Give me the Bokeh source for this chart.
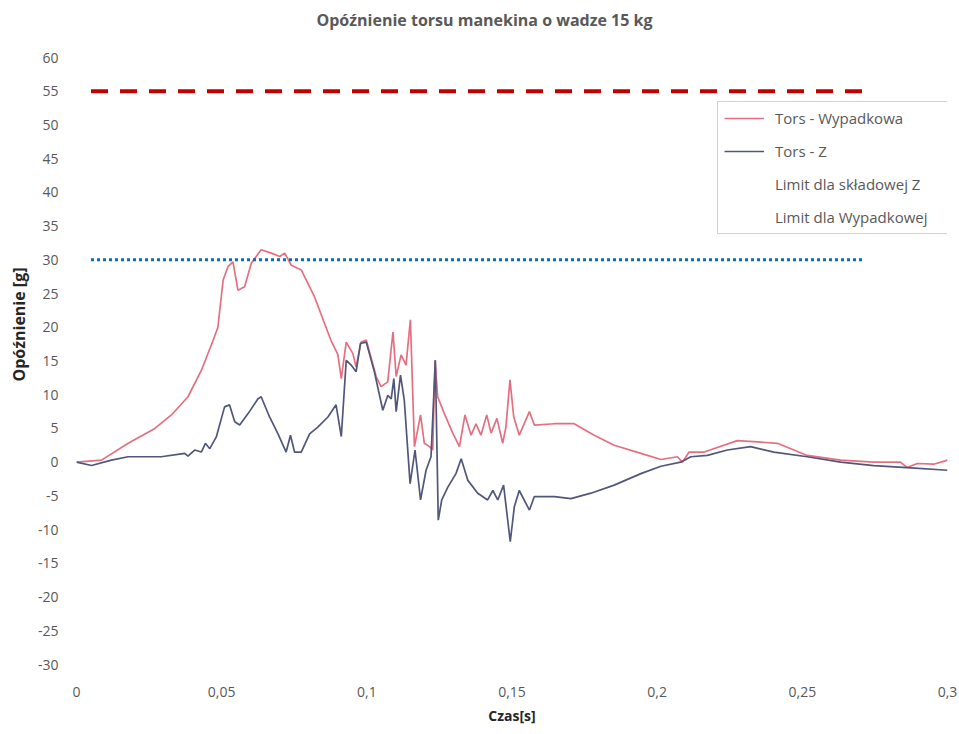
from bokeh.plotting import figure
from bokeh.models import Title, Legend, LegendItem, FixedTicker, Range1d
from bokeh.embed import file_html
from bokeh.resources import INLINE

# --- data ---
czas_w = [0, 0.0086, 0.0178, 0.027, 0.0327, 0.0384, 0.043, 0.047, 0.0487, 0.0505,
          0.0522, 0.0539, 0.0556, 0.0579, 0.0602, 0.0636, 0.0671, 0.07, 0.0717, 0.074,
          0.0774, 0.082, 0.0854, 0.0877, 0.09, 0.0912, 0.0929, 0.0952, 0.0963, 0.098,
          0.0998, 0.1015, 0.1032, 0.1049, 0.1072, 0.109, 0.1101, 0.1118, 0.1135, 0.115,
          0.1164, 0.1185, 0.1198, 0.1216, 0.1227, 0.1235, 0.1244, 0.1267, 0.1296, 0.1319,
          0.1338, 0.1359, 0.1376, 0.1393, 0.1413, 0.1428, 0.1448, 0.1468, 0.1479, 0.1493,
          0.1506, 0.1525, 0.156, 0.1577, 0.1646, 0.1714, 0.1783, 0.1852, 0.1944, 0.2013,
          0.207, 0.2087, 0.211, 0.2162, 0.2276, 0.2345, 0.2414, 0.2517, 0.2632, 0.2746,
          0.2838, 0.2861, 0.2896, 0.2953, 0.3]
tors_wypadkowa = [0, 0.3, 2.8, 5, 7, 9.7, 13.6, 18, 20, 27,
                  29, 29.7, 25.5, 26, 29.5, 31.5, 31, 30.5, 31, 29.2,
                  28.5, 24.5, 20.6, 18, 16, 12.4, 17.8, 16.1, 14.1, 17.8,
                  18.1, 15.4, 12.7, 11.2, 11.9, 19.3, 12.7, 15.9, 14.4, 21.1,
                  2.3, 7, 2.8, 2.3, 1.8, 15.1, 9.7, 7.2, 4.3, 2.3,
                  7, 4, 5.7, 4, 7, 4.3, 6.5, 2.8, 5.2, 12.2,
                  6.7, 4, 7.5, 5.5, 5.7, 5.7, 4, 2.5, 1.3, 0.4,
                  0.8, 0, 1.5, 1.5, 3.2, 3, 2.8, 1, 0.3, 0,
                  0, -0.8, -0.2, -0.3, 0.3]

czas_z = [0, 0.0052, 0.012, 0.0178, 0.0292, 0.0373, 0.0384, 0.0407, 0.043, 0.0444,
          0.0459, 0.0482, 0.051, 0.0527, 0.0545, 0.0562, 0.0591, 0.0625, 0.0636, 0.0665,
          0.0694, 0.0722, 0.0737, 0.0751, 0.0774, 0.0803, 0.0831, 0.0866, 0.0894, 0.0912,
          0.0929, 0.0946, 0.0963, 0.0978, 0.0998, 0.1026, 0.1055, 0.1072, 0.1084, 0.1093,
          0.1101, 0.1116, 0.1129, 0.1149, 0.1166, 0.1185, 0.1204, 0.1221, 0.1236, 0.1246,
          0.1258, 0.1279, 0.1307, 0.1325, 0.1348, 0.1382, 0.1416, 0.1434, 0.1451, 0.1471,
          0.1494, 0.1508, 0.1525, 0.156, 0.1577, 0.1646, 0.1703, 0.1772, 0.1852, 0.1944,
          0.2013, 0.2081, 0.2116, 0.2173, 0.2242, 0.2322, 0.2402, 0.2517, 0.2632, 0.2746,
          0.2861, 0.3]
tors_z = [0, -0.5, 0.3, 0.8, 0.8, 1.3, 0.9, 1.8, 1.5, 2.8,
          2, 3.8, 8.2, 8.5, 6, 5.5, 7.2, 9.4, 9.7, 6.7,
          4.2, 1.5, 4, 1.5, 1.5, 4.2, 5.2, 6.7, 8.5, 3.8,
          15.1, 14.4, 13.4, 17.6, 17.8, 13.4, 7.7, 9.9, 9.4, 12.4,
          7.5, 12.9, 9.2, -3.2, 1.8, -5.6, -1.2, 0.8, 15.1, -8.6,
          -5.6, -3.7, -1.7, 0.5, -2.7, -4.6, -5.6, -4.2, -5.6, -3.4,
          -11.8, -6.6, -4.2, -7.1, -5.1, -5.1, -5.4, -4.6, -3.4, -1.7,
          -0.6, 0, 0.8, 1, 1.8, 2.3, 1.5, 0.8, 0, -0.5,
          -0.8, -1.2]

limit_czas = [0.005, 0.271]
limit_z = [30, 30]
limit_wypadkowa = [55, 55]

x_ticks = [0, 0.05, 0.1, 0.15, 0.2, 0.25, 0.3]
x_tick_labels = ["0", "0,05", "0,1", "0,15", "0,2", "0,25", "0,3"]
y_ticks = [-30, -25, -20, -15, -10, -5, 0, 5, 10, 15, 20, 25, 30, 35, 40, 45, 50, 55, 60]
y_tick_labels = ["-30", "-25", "-20", "-15", "-10", "-5", "0", "5", "10", "15", "20",
                 "25", "30", "35", "40", "45", "50", "55", "60"]

FONT = "Open Sans"
GRAY = "#595959"

p = figure(width=957, height=732, x_range=Range1d(0, 0.3), y_range=Range1d(-30, 60),
           output_backend="svg", toolbar_location=None,
           min_border_left=75, min_border_right=10, min_border_top=57, min_border_bottom=68)
p.outline_line_color = None
p.xgrid.visible = False
p.ygrid.visible = False

# spacer, then the chart title (later "above" items sit further from the frame)
p.add_layout(Title(text=" ", text_font=FONT, text_font_size="15px", standoff=0), "above")
p.add_layout(Title(text="Opóźnienie torsu manekina o wadze 15 kg", align="left", offset=240,
                   text_font=FONT, text_font_size="16px", text_font_style="bold",
                   text_color=GRAY), "above")

for ax in (p.xaxis[0], p.yaxis[0]):
    ax.axis_line_color = None
    ax.major_tick_line_color = None
    ax.minor_tick_line_color = None
    ax.major_label_text_font = FONT
    ax.major_label_text_font_size = "14px"
    ax.major_label_text_color = GRAY

p.xaxis.ticker = FixedTicker(ticks=x_ticks)
p.xaxis.major_label_overrides = dict(zip(x_ticks, x_tick_labels))
p.xaxis.major_label_standoff = 16
p.xaxis.axis_label = "Czas[s]"
p.xaxis.axis_label_text_font = FONT
p.xaxis.axis_label_text_font_size = "14px"
p.xaxis.axis_label_text_font_style = "bold"
p.xaxis.axis_label_text_color = "#262626"
p.xaxis.axis_label_standoff = 6

p.yaxis.ticker = FixedTicker(ticks=y_ticks)
p.yaxis.major_label_overrides = dict(zip(y_ticks, y_tick_labels))
p.yaxis.major_label_standoff = 12
p.add_layout(Title(text="Opóźnienie [g]", align="right", offset=210,
                   text_font=FONT, text_font_size="16px", text_font_style="bold",
                   text_color="#262626"), "left")

rw = p.line(czas_w, tors_wypadkowa, line_color="#e56f81", line_width=1.7)
rz = p.line(czas_z, tors_z, line_color="#51577a", line_width=1.7)
p.line(limit_czas, limit_z, line_color="#0070c0", line_width=3, line_dash="3 3")
p.line(limit_czas, limit_wypadkowa, line_color="#c00000", line_width=4, line_dash="17 12")

d1 = p.line([], [], line_color="#f2f2f2", line_width=1)
d2 = p.line([], [], line_color="#f2f2f2", line_width=1)

legend = Legend(items=[LegendItem(label="Tors - Wypadkowa", renderers=[rw]),
                       LegendItem(label="Tors - Z", renderers=[rz]),
                       LegendItem(label="Limit dla składowej Z", renderers=[d1]),
                       LegendItem(label="Limit dla Wypadkowej", renderers=[d2])],
                location=(641, 430), padding=6, margin=0, spacing=13,
                glyph_width=40, glyph_height=18, label_height=18, label_standoff=11,
                label_width=194, label_text_font=FONT, label_text_font_size="15px",
                label_text_color=GRAY, border_line_color="#a6a6a6",
                background_fill_color="white", background_fill_alpha=1)
p.add_layout(legend)

open("out.html", "w").write(file_html(p, INLINE))
